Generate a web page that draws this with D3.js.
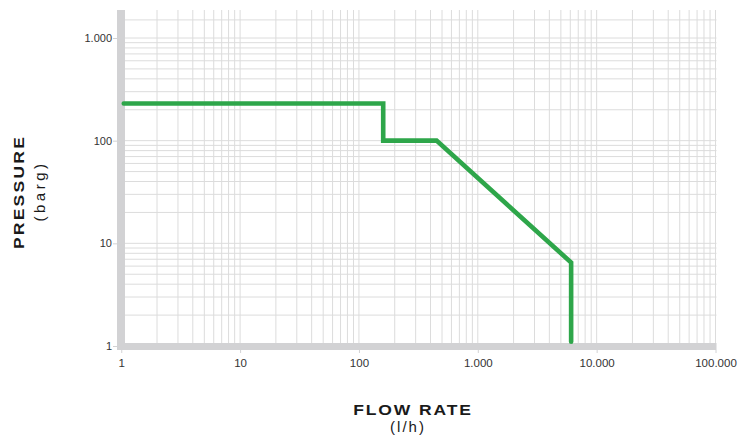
<!DOCTYPE html>
<html><head><meta charset="utf-8">
<script src="https://cdn.jsdelivr.net/npm/d3@7"></script>
<style>body{margin:0;background:#fff}svg{display:block}</style>
</head><body><svg id="c" width="750" height="436"></svg>
<script>
const xTicks = [1, 10, 100, 1000, 10000, 100000];
const xTickLabels = ["1", "10", "100", "1.000", "10.000", "100.000"];
const yTicks = [1, 10, 100, 1000];
const yTickLabels = ["1", "10", "100", "1.000"];
const flowRate = [1.05, 160, 160, 450, 6100, 6100];
const pressure = [230, 230, 100, 100, 6.5, 1.1];
const yExtraGrid = [1500];

const svg = d3.select("#c");
const x = d3.scaleLog().domain([1, 100000]).range([121.25, 715.5]);
const y = d3.scaleLog().domain([1, 1000]).range([346, 38]);
const plotTop = 10, gridColor = "#dcdcdc", axisColor = "#d2d2d4";
const font = "Liberation Sans, Arial, sans-serif";

// grid values
const xGrid = [], yGrid = [];
for (let d = 1; d <= 10000; d *= 10) for (let m = 1; m <= 9; m++) xGrid.push(d * m);
xGrid.push(100000);
for (let d = 1; d <= 100; d *= 10) for (let m = 1; m <= 9; m++) yGrid.push(d * m);
yGrid.push(1000, ...yExtraGrid);

const g = svg.append("g");
g.selectAll("line.vg").data(xGrid.filter(v => v > 1)).enter().append("line")
  .attr("x1", d => x(d)).attr("x2", d => x(d)).attr("y1", plotTop).attr("y2", 343)
  .attr("stroke", gridColor).attr("stroke-width", 1);
g.selectAll("line.hg").data(yGrid.filter(v => v > 1)).enter().append("line")
  .attr("x1", 125).attr("x2", x(100000) + 1).attr("y1", d => y(d)).attr("y2", d => y(d))
  .attr("stroke", gridColor).attr("stroke-width", 1);

// axis bars
svg.append("rect").attr("x", 117).attr("y", plotTop).attr("width", 8).attr("height", 340).attr("fill", axisColor);
svg.append("rect").attr("x", 117).attr("y", 343).attr("width", x(100000) + 1 - 117).attr("height", 7).attr("fill", axisColor);

// x axis ticks
const xa = d3.axisBottom(x).tickValues(xTicks).tickSize(3).tickPadding(6)
  .tickFormat((d, i) => xTickLabels[i]);
const gx = svg.append("g").attr("transform", "translate(0,350)").call(xa);
gx.select(".domain").remove();
gx.selectAll("line").attr("stroke", axisColor);
gx.selectAll("text").attr("font-family", font).attr("font-size", 11.5).attr("fill", "#333");

const ya = d3.axisLeft(y).tickValues(yTicks).tickSize(4).tickPadding(1)
  .tickFormat((d, i) => yTickLabels[i]);
const gy = svg.append("g").attr("transform", "translate(117,0)").call(ya);
gy.select(".domain").remove();
gy.selectAll("line").attr("stroke", axisColor);
gy.selectAll("text").attr("font-family", font).attr("font-size", 11).attr("fill", "#333");

// data line
const pts = flowRate.map((f, i) => [f, pressure[i]]);
svg.append("path").datum(pts)
  .attr("d", d3.line().x(d => x(d[0])).y(d => y(d[1])))
  .attr("fill", "none").attr("stroke", "#2ea64a").attr("stroke-width", 4.6)
  .attr("stroke-linecap", "round").attr("stroke-linejoin", "miter");

// titles: horizontally stretched to mimic an extended typeface
svg.append("text").attr("transform", "translate(413,415) scale(1.25,1)").attr("text-anchor", "middle")
  .attr("font-family", font).attr("font-weight", "bold")
  .attr("font-size", 14).attr("letter-spacing", 1.5).attr("fill", "#1a1a1a").text("FLOW RATE");
svg.append("text").attr("x", 408).attr("y", 432).attr("text-anchor", "middle")
  .attr("font-family", font)
  .attr("font-size", 15).attr("letter-spacing", 2).attr("fill", "#1a1a1a").text("(l/h)");
svg.append("text").attr("transform", "translate(24,192) rotate(-90) scale(1.25,1)").attr("text-anchor", "middle")
  .attr("font-family", font).attr("font-weight", "bold")
  .attr("font-size", 14).attr("letter-spacing", 1.8).attr("fill", "#1a1a1a").text("PRESSURE");
svg.append("text").attr("transform", "translate(45,191) rotate(-90)").attr("text-anchor", "middle")
  .attr("font-family", font)
  .attr("font-size", 15).attr("letter-spacing", 3.5).attr("fill", "#1a1a1a").text("(barg)");
</script></body></html>
